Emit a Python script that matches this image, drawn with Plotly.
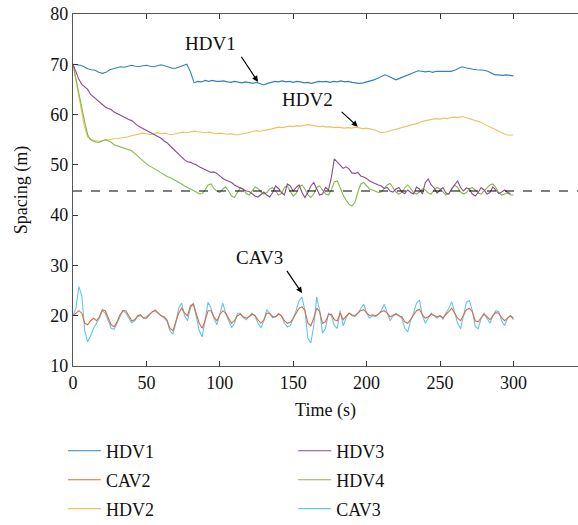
import plotly.graph_objects as go

# time axes
t_coarse = [i * 2.5 for i in range(121)]   # 0..300 step 2.5
t_fine = [i * 2 for i in range(151)]       # 0..300 step 2

hdv1 = [70, 69.9, 69.8, 69.5, 69.1, 68.9, 68.8, 68.4, 68.2, 68.4, 68.9, 69.1, 69.3, 69.5, 69.4, 69.6,
        69.8, 69.6, 69.5, 69.7, 69.8, 69.6, 69.5, 69.7, 69.9, 69.7, 69.4, 69.2, 69.2, 69.5, 69.8, 70.0,
        68.5, 66.3, 66.6, 66.5, 66.8, 66.6, 66.8, 66.6, 66.6, 66.7, 66.5, 66.4, 66.6, 66.5, 66.3, 66.5,
        66.4, 66.2, 66.4, 66.1, 65.9, 66.2, 66.4, 66.6, 66.5, 66.7, 66.5, 66.6, 66.4, 66.6, 66.5, 66.3,
        66.4, 66.2, 66.4, 66.6, 66.5, 66.6, 66.4, 66.6, 66.5, 66.7, 66.5, 66.6, 66.4, 66.3, 66.2, 66.3,
        66.5, 66.6, 66.9, 67.2, 67.6, 67.9, 67.6, 67.2, 66.9, 67.2, 67.5, 67.8, 68.1, 68.5, 68.7, 68.6,
        68.5, 68.6, 68.4, 68.6, 68.6, 68.5, 68.5, 68.6, 68.8, 69.2, 69.5, 69.3, 69.1, 69.0, 68.9, 68.9,
        68.8, 68.6, 68.2, 67.9, 67.9, 67.8, 67.9, 67.8, 67.7]

hdv2 = [70, 66, 62, 58, 55.5, 55, 54.8, 54.7, 54.8, 55, 55, 55.2, 55.2, 55.3, 55.5, 55.6,
        55.8, 56, 56.1, 56.3, 56.2, 56, 56.2, 56.4, 56.2, 56.3, 56.1, 56, 56.2, 56.4, 56.5, 56.4,
        56.6, 56.7, 56.6, 56.5, 56.4, 56.5, 56.3, 56.2, 56.3, 56.2, 56.1, 56.2, 56, 56, 56.1, 56.3,
        56.5, 56.6, 56.8, 56.7, 56.9, 57, 57.1, 57.3, 57.5, 57.4, 57.6, 57.7, 57.6, 57.8, 57.7, 57.8,
        58, 57.9, 57.8, 57.6, 57.7, 57.5, 57.6, 57.4, 57.5, 57.4, 57.3, 57.4, 57.3, 57.5, 57.3, 57.2,
        57.3, 57.2, 57, 56.7, 56.4, 56.5, 56.7, 56.9, 57.1, 57.2, 57.4, 57.6, 57.8, 58.1, 58.3, 58.6,
        58.8, 58.9, 59.1, 59.2, 59.1, 59.3, 59.2, 59.4, 59.5, 59.4, 59.6, 59.4, 59.2, 58.9, 58.7, 58.5,
        58.1, 57.8, 57.5, 57.1, 56.7, 56.3, 56, 55.9, 56]

hdv3 = [70, 68.5, 67, 66, 65.5, 65, 64, 63.5, 63, 62.5, 62, 61.5, 61.2, 61, 60.5, 60.2,
        59.8, 59.5, 59.2, 59, 58.8, 58.3, 57.8, 57.5, 57.2, 56.8, 56.5, 56.2, 56, 55.7, 55.3, 54.8,
        54.4, 53.8, 53.2, 52.8, 52.2, 51.5, 51, 50.6, 50.5, 50.2, 50, 49.6, 49.3, 49, 48.8, 48.5,
        48.6, 48.3, 47.8, 47.3, 47, 46.8, 46.5, 46, 45.7, 45.4, 45, 44.8, 44.7, 44.3, 43.8, 43.6,
        44.2, 44.6, 44, 43.6, 44.5, 45.8, 45.3, 44.5, 44, 46.2, 45.8, 44.8, 45.5, 46, 44.5, 43.5,
        44.5, 45.8, 46.5, 45.2, 44, 44.2, 45.5, 45, 47.5, 51.2, 50.5, 49.8, 49.3, 49.6, 49.2, 48.4,
        48.3, 48.5, 47.8, 47.6, 47.3, 46.8, 46.5, 46.2, 46, 45.8, 45.3, 45.5, 44.8, 44.6, 45.2, 45.5,
        44.6, 44.3, 45, 44.5, 44.2, 45.6, 45.2, 44.2, 46.5, 47.2, 46, 45.4, 44.4, 45, 45.5, 44.4,
        44.2, 45.3, 46, 46.8, 45.5, 44.8, 45.4, 45.2, 44.2, 43.8, 44.5, 45.5, 45, 44.2, 44.5, 45.6,
        45, 44.3, 44.6, 45, 44.5, 44.3]

hdv4 = [70, 67, 64, 61.5, 58.5, 56, 55, 54.7, 54.5, 54.5, 54.8, 55, 54.8, 54.5, 54, 53.8,
        53.5, 53.3, 53.2, 53, 52.8, 52.3, 51.8, 51.2, 50.6, 50.2, 49.8, 49.5, 49.2, 48.8, 48.4, 48,
        47.7, 47.5, 47.2, 46.8, 46.5, 46.2, 45.8, 45.5, 45.2, 45, 44.6, 44.2, 44.3, 45, 46, 46.2,
        45.3, 44.8, 44.5, 45.2, 45.6, 44.8, 43.8, 43.5, 44.5, 45.5, 45.2, 44.3, 44, 44.8, 45.6, 45.3,
        44.6, 44.2, 44.5, 45.2, 45.5, 44.8, 44, 44.3, 45.5, 45.8, 44.8, 43.8, 44.3, 45.6, 46, 45.2,
        44, 43.5, 44.2, 45.5, 45.8, 45, 44.2, 44, 45, 46.6, 46.8, 45.5, 44, 43, 42.2, 41.8,
        42.5, 44.5, 46.2, 46.5, 45.8, 45.2, 45, 44.8, 44.5, 44.6, 45.2, 46, 46.3, 45.5, 44.6, 44.2,
        44.5, 45.4, 46, 45.3, 44.5, 44.2, 44.6, 45.2, 45, 44.4, 44.2, 45, 45.5, 45.2, 44.5, 44,
        44.3, 45.2, 46, 45.5, 44.6, 44.2, 44.5, 45.2, 45.5, 45, 44.4, 44.2, 44.8, 45.5, 46, 46.2,
        45.5, 44.5, 44, 44.2, 44.4, 44, 44]

cav2 = [20, 20.5, 21, 20.5, 18.5, 18.2, 19, 19.5, 19, 19.8, 21.2, 21, 19.5, 18.2, 17.8, 18.8,
        20.2, 21, 21, 20, 19, 19.2, 20, 20.2, 19.5, 19.5, 20.2, 20.8, 21, 20.5, 20, 19.8,
        19.2, 17.5, 17, 18.8, 20.5, 21.5, 20.5, 20, 22, 22.3, 20.5, 18.5, 17.5, 19, 21, 21,
        19.8, 19, 20.2, 21, 20.5, 19.5, 18.5, 19, 20, 20.3, 19.8, 19.5, 19.8, 20.3, 20, 19.2,
        18.5, 19.2, 20.5, 20.5, 19.8, 19.8, 20.3, 20, 19, 18.5, 18.7, 19.5, 20.5, 21.5, 21.8, 21,
        18.5, 18, 19.5, 21.5, 20.8, 18.5, 18.8, 20.2, 20.3, 19.2, 19, 20.5, 19.2, 19.8, 20.5, 20.2,
        20, 20.5, 21, 21.2, 20.5, 20, 20.2, 20, 20.3, 20.8, 21, 20.5, 19.8, 20, 20.3, 20,
        19.8, 18.8, 18.5, 19.3, 20.2, 21, 21.3, 20.2, 19.5, 19.8, 20.3, 20, 19.8, 20, 19.6, 20.3,
        20.8, 21.5, 20.5, 19.5, 19, 20.2, 21.2, 21.5, 20.8, 19, 18.8, 19.6, 20.3, 19.8, 19.2, 20,
        20.6, 20.5, 19.6, 19, 19.6, 20, 19.5]

cav3 = [20, 21.5, 25.8, 24, 17, 14.8, 16, 17.5, 18.5, 19.5, 21, 20.5, 19, 17.5, 17.3, 18.5,
        20, 21, 20.5, 19.5, 18.6, 19, 19.8, 20, 19.6, 19.8, 20.3, 20.8, 21.2, 20.5, 20, 19.5,
        19, 17, 16.3, 18.5, 21.5, 22.5, 20, 19, 21.5, 22.5, 20, 17, 15.8, 19, 22.7, 21.5,
        19.5, 18.2, 20.5, 22.5, 20.5, 19, 17.6, 18.5, 20.5, 20.5, 19.6, 19.2, 19.8, 20.5, 20, 18.5,
        17.6, 19, 21.2, 20.5, 19.6, 19.8, 20.5, 20, 18.5, 17.8, 18, 19.5, 21, 23, 23.7, 21,
        15.5, 14.6, 18, 23.7, 21, 16.5, 17.5, 20.5, 20, 18, 17.5, 21, 18, 19.5, 20.5, 20,
        19.8, 20.5, 21.5, 22.3, 20.5, 19.5, 20, 19.8, 20.3, 21, 22.3, 20.5, 19, 20, 20.5, 20,
        19.5, 17.5, 16.8, 19, 20.5, 22.5, 23.1, 20, 18.5, 19.5, 20.5, 20, 19.5, 20, 19.3, 20.5,
        21.5, 22.8, 20.5, 18.5, 17.4, 20, 22.7, 23, 21, 17.8, 17.4, 19.5, 20.5, 19.5, 18.5, 20,
        21, 20.8, 19, 18, 19.5, 20, 19.2]

target_spacing = 44.8
x_ticks = [0, 50, 100, 150, 200, 250, 300]
y_ticks = [10, 20, 30, 40, 50, 60, 70, 80]

colors = {
    "HDV1": "#2f82c2",
    "CAV2": "#dd6a3c",
    "HDV2": "#f0c060",
    "HDV3": "#8a4a98",
    "HDV4": "#86b84a",
    "CAV3": "#62c6ee",
}

FONT = "Liberation Serif"

fig = go.Figure()

series = [
    ("HDV1", t_coarse, hdv1, "legend"),
    ("CAV2", t_fine, cav2, "legend"),
    ("HDV2", t_coarse, hdv2, "legend"),
    ("HDV3", t_fine, hdv3, "legend2"),
    ("HDV4", t_fine, hdv4, "legend2"),
    ("CAV3", t_fine, cav3, "legend2"),
]
draw_order = ["HDV1", "HDV2", "HDV4", "HDV3", "CAV3", "CAV2"]
lookup = {s[0]: s for s in series}
rank = {s[0]: i for i, s in enumerate(series)}
for name in draw_order:
    _, tx, ty, lg = lookup[name]
    fig.add_trace(go.Scatter(
        x=tx, y=ty, mode="lines", name=name,
        line=dict(color=colors[name], width=1.1),
        legend=lg, legendgroup=name, legendrank=rank[name],
    ))

fig.add_shape(type="line", xref="paper", x0=0, x1=1, yref="y",
              y0=target_spacing, y1=target_spacing,
              line=dict(color="black", width=1.2, dash="dash"))

# annotation arrows (head x, head y, tail x, tail y)
arrows = [
    (126, 66.5, 114, 71.8),
    (194, 57.6, 182, 60.8),
    (156, 24.5, 145, 29.2),
]
for hx, hy, tx_, ty_ in arrows:
    fig.add_annotation(x=hx, y=hy, ax=tx_, ay=ty_, axref="x", ayref="y",
                       text="", showarrow=True, arrowhead=2, arrowsize=1.0,
                       arrowwidth=1.2, arrowcolor="black")
labels = [("HDV1", 94, 74.2), ("HDV2", 160, 63.0), ("CAV3", 127, 31.6)]
for txt, lx, ly in labels:
    fig.add_annotation(x=lx, y=ly, text=txt, showarrow=False,
                       font=dict(family=FONT, size=19, color="#111"))

axis_common = dict(
    showline=True, linecolor="#555", linewidth=1.2,
    ticks="inside", ticklen=5, tickcolor="#333", tickwidth=1.2,
    showgrid=False, zeroline=False,
    tickfont=dict(family=FONT, size=18, color="#111"),
)

fig.update_xaxes(range=[0, 344], tickvals=x_ticks, mirror="ticks",
                 title=dict(text="Time (s)", font=dict(family=FONT, size=18, color="#111"), standoff=11),
                 **axis_common)
fig.update_yaxes(range=[10, 80], tickvals=y_ticks,
                 title=dict(text="Spacing (m)", font=dict(family=FONT, size=18, color="#111"), standoff=17),
                 **axis_common)

legend_common = dict(
    orientation="v", xanchor="left", yanchor="top", yref="container",
    font=dict(family=FONT, size=18, color="#111"),
    bgcolor="rgba(0,0,0,0)", tracegroupgap=2.5, itemwidth=33,
)
fig.update_layout(
    width=578, height=525,
    font=dict(family=FONT, color="#111"),
    margin=dict(l=73, r=0, t=14, b=159),
    plot_bgcolor="white", paper_bgcolor="white",
    legend=dict(x=-0.02, y=0.176, **legend_common),
    legend2=dict(x=0.436, y=0.176, **legend_common),
    showlegend=True,
)

fig.write_html("out.html")
